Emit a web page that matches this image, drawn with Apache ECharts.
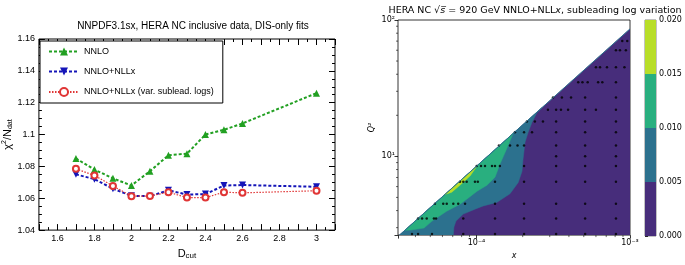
<!DOCTYPE html>
<html>
<head>
<meta charset="utf-8">
<script src="https://cdn.jsdelivr.net/npm/echarts@6/dist/echarts.min.js"></script>
<style>
html, body { margin: 0; padding: 0; background: #fff; }
#main { width: 685px; height: 265px; }
</style>
</head>
<body>
<div id="main"></div>
<script>
// left panel: chi2/Ndat against Dcut
const dcut = [1.7, 1.8, 1.9, 2.0, 2.1, 2.2, 2.3, 2.4, 2.5, 2.6, 3.0];
const chiNNLO = [1.085, 1.078, 1.0725, 1.068, 1.077, 1.087, 1.088, 1.100, 1.103, 1.107, 1.126];
const chiNLLx = [1.075, 1.072, 1.066, 1.0615, 1.0613, 1.065, 1.0623, 1.0626, 1.068, 1.0683, 1.0672];
const chiNLLxVar = [1.0785, 1.0743, 1.0677, 1.0613, 1.0614, 1.0638, 1.0604, 1.0604, 1.0638, 1.0634, 1.0647];

// right panel: axis ranges (x, Q2) and contour levels
const xRange = [3.08e-5, 1e-3];
const q2Range = [2.645, 100];
const levels = [0, 0.005, 0.010, 0.015, 0.020];
const levelColors = ['#472d7b', '#2c718e', '#29af7f', '#b8de29'];

// kinematic limit (upper left edge of the filled region)
const kinEdge = [[3.15e-5, 2.645], [1e-3, 86]];

// contour regions, outlines as [x, Q2]
const region0 = [[3.15e-5, 2.645], [1e-3, 2.645], [1e-3, 86]];
const region1 = [[3.15e-5, 2.645], [7.06e-5, 2.645], [7.13e-5, 3.03], [7.35e-5, 3.35], [8.2e-5, 3.77],
    [9.77e-5, 4.10], [1.107e-4, 4.33], [1.354e-4, 4.59], [1.653e-4, 5.32], [1.87e-4, 6.43],
    [1.98e-4, 7.78], [2.01e-4, 9.52], [2.07e-4, 12.7], [2.17e-4, 15.0], [2.30e-4, 17.8],
    [2.48e-4, 21.0], [2.66e-4, 22.7]];
const region2 = [[3.42e-5, 2.87], [3.74e-5, 2.88], [4.55e-5, 2.98], [5.13e-5, 3.35], [6.39e-5, 3.96],
    [7.81e-5, 4.46], [9.07e-5, 5.06], [1.008e-4, 5.55], [1.17e-4, 6.14], [1.32e-4, 7.03],
    [1.42e-4, 8.75], [1.57e-4, 11.3], [1.73e-4, 14.7]];
const region3 = [[6.23e-5, 5.26], [6.9e-5, 5.46], [8.0e-5, 6.3], [9.1e-5, 7.2], [1.0e-4, 8.4]];
const regions = [region0, region1, region2, region3];

// data points, one row per Q2 bin
const q2Bins = [2.7, 3.5, 4.5, 6.5, 8.5, 10, 12, 15, 18, 22, 27, 35, 45, 60, 70];
const xByBin = [
    [3.80e-5, 4.16e-5, 5.13e-5, 8.2e-5, 1.32e-4, 2.04e-4, 3.3e-4, 5.1e-4, 8.1e-4],
    [4.16e-5, 4.42e-5, 4.74e-5, 5.28e-5, 5.45e-5, 8.2e-5, 1.32e-4, 2.04e-4, 3.3e-4, 5.1e-4, 8.1e-4],
    [5.36e-5, 6.07e-5, 6.4e-5, 7.06e-5, 7.6e-5, 8.42e-5, 1.32e-4, 2.04e-4, 3.3e-4, 5.1e-4, 8.1e-4],
    [7.81e-5, 8.2e-5, 8.63e-5, 9.77e-5, 1.02e-4, 1.32e-4, 2.04e-4, 3.3e-4, 5.1e-4, 8.1e-4],
    [1.003e-4, 1.07e-4, 1.136e-4, 1.262e-4, 1.32e-4, 1.42e-4, 2.04e-4, 3.3e-4, 5.1e-4, 8.1e-4],
    [3.3e-4, 5.1e-4, 8.1e-4],
    [1.40e-4, 1.653e-4, 1.85e-4, 2.04e-4, 3.3e-4, 5.1e-4, 8.1e-4],
    [1.78e-4, 2.04e-4, 2.30e-4, 3.3e-4, 5.1e-4, 8.1e-4],
    [2.13e-4, 2.40e-4, 2.71e-4, 3.3e-4, 5.1e-4, 8.1e-4],
    [2.92e-4, 3.3e-4, 3.55e-4, 3.95e-4, 5.1e-4, 6.0e-4, 8.1e-4],
    [3.15e-4, 3.6e-4, 4.13e-4, 5.1e-4, 8.1e-4],
    [4.6e-4, 4.9e-4, 5.3e-4, 6.2e-4, 6.6e-4, 8.1e-4],
    [6.0e-4, 6.38e-4, 7.08e-4, 8.1e-4, 9.2e-4],
    [8.1e-4, 8.6e-4, 9.4e-4],
    [8.9e-4, 9.6e-4]
];

// minor tick positions of the log axes
const xMinor = [4e-5, 5e-5, 6e-5, 7e-5, 8e-5, 9e-5, 2e-4, 3e-4, 4e-4, 5e-4, 6e-4, 7e-4, 8e-4, 9e-4];
const q2Minor = [3, 4, 5, 6, 7, 8, 9, 20, 30, 40, 50, 60, 70, 80, 90];

let myChart = echarts.init(document.getElementById('main'));

const sup = { '-': '\u207B', '0': '\u2070', '1': '\u00B9', '2': '\u00B2', '3': '\u00B3', '4': '\u2074', '5': '\u2075' };
function powLabel(v) {
    const l = Math.log10(v);
    if (Math.abs(l - Math.round(l)) > 1e-6) return '';
    return '10' + String(Math.round(l)).split('').map(c => sup[c]).join('');
}

const dots = [];
q2Bins.forEach((q, i) => xByBin[i].forEach(x => dots.push([x, q])));

const minorTicks = xMinor.map(v => [v, q2Range[0], 0]).concat(q2Minor.map(v => [xRange[0], v, 1]));

const green = '#22a022', blue = '#1515b8', red = '#e03535';
const boxAxis = {
    axisLine: { show: false },
    axisTick: { show: true, inside: true, length: 6, lineStyle: { color: '#000', width: 1 } },
    minorTick: { show: true, length: 3, lineStyle: { color: '#000', width: 1 } },
    splitLine: { show: false }
};

option = {
    animation: false,
    textStyle: { fontFamily: 'Liberation Sans', color: '#000' },
    title: [
        {
            text: 'NNPDF3.1sx, HERA NC inclusive data, DIS-only fits',
            left: 188, top: 16, textAlign: 'center',
            textStyle: { fontFamily: 'Liberation Sans', fontSize: 10, fontWeight: 'normal', color: '#000' }
        },
        {
            text: 'HERA NC \u221A{i|s\u0305} = 920 GeV NNLO+NLL{i|x}, subleading log variation',
            left: 530, top: 1, textAlign: 'center',
            textStyle: {
                fontFamily: 'DejaVu Sans', fontSize: 9.5, fontWeight: 'normal', color: '#000',
                rich: { i: { fontFamily: 'DejaVu Sans', fontSize: 9.5, fontStyle: 'italic', color: '#000' } }
            }
        }
    ],
    legend: {
        data: ['NNLO', 'NNLO+NLLx', 'NNLO+NLLx (var. sublead. logs)'],
        orient: 'vertical',
        left: 40, top: 41,
        itemWidth: 30, itemHeight: 10, itemGap: 11,
        padding: [6, 9, 6, 8],
        borderColor: '#000', borderWidth: 1, borderRadius: 0,
        backgroundColor: '#fff',
        textStyle: { fontFamily: 'Liberation Sans', fontSize: 9, color: '#000' }
    },
    grid: [
        { left: 38, right: 350, top: 39, bottom: 24, show: true, borderColor: '#000', borderWidth: 1, backgroundColor: 'transparent' },
        { left: 398, right: 55, top: 20, bottom: 29, show: true, borderColor: '#000', borderWidth: 0.8, backgroundColor: 'transparent' },
        { left: 645, right: 29, top: 20, bottom: 29, show: true, borderColor: '#333', borderWidth: 0.6, backgroundColor: 'transparent' }
    ],
    xAxis: [
        Object.assign({}, boxAxis, {
            gridIndex: 0, type: 'value', min: 1.5, max: 3.1, interval: 0.1, position: 'bottom',
            minorTick: { show: true, splitNumber: 2, length: 3, lineStyle: { color: '#000' } },
            axisLabel: {
                fontSize: 9, color: '#000', margin: 4,
                formatter: v => { const k = Math.round(v * 10); return (k % 2 === 0 && k > 15 && k < 31) ? String(+v.toFixed(1)) : ''; }
            },
            name: '{a|D}{b|cut}', nameLocation: 'middle', nameGap: 12,
            nameTextStyle: {
                rich: {
                    a: { fontFamily: 'Liberation Sans', fontSize: 11, color: '#000' },
                    b: { fontFamily: 'Liberation Sans', fontSize: 8, color: '#000', padding: [5, 0, 0, 0] }
                }
            }
        }),
        Object.assign({}, boxAxis, {
            gridIndex: 0, type: 'value', min: 1.5, max: 3.1, interval: 0.1, position: 'top',
            minorTick: { show: true, splitNumber: 2, length: 3, lineStyle: { color: '#000' } },
            axisLabel: { show: false }
        }),
        {
            gridIndex: 1, type: 'log', logBase: 10, min: xRange[0], max: xRange[1],
            axisLine: { show: false },
            axisTick: { show: true, length: 3.5, lineStyle: { color: '#000', width: 0.8 } },
            splitLine: { show: false },
            axisLabel: { fontFamily: 'DejaVu Sans', fontSize: 8, color: '#000', margin: 4, formatter: powLabel },
            name: 'x', nameLocation: 'middle', nameGap: 12,
            nameTextStyle: { fontFamily: 'DejaVu Sans', fontSize: 8, fontStyle: 'italic', color: '#000' }
        },
        { gridIndex: 2, type: 'value', min: 0, max: 1, show: false }
    ],
    yAxis: [
        Object.assign({}, boxAxis, {
            gridIndex: 0, type: 'value', min: 1.04, max: 1.16, interval: 0.02, position: 'left',
            minorTick: { show: true, splitNumber: 4, length: 3, lineStyle: { color: '#000' } },
            axisLabel: { fontSize: 9, color: '#000', margin: 4, formatter: v => String(+v.toFixed(2)) },
            name: '\u03C7{sup|2}/N{sub|dat}', nameLocation: 'middle', nameGap: 21, nameRotate: 90,
            nameTextStyle: {
                fontFamily: 'Liberation Sans', fontSize: 11, color: '#000',
                rich: {
                    sup: { fontFamily: 'Liberation Sans', fontSize: 7, color: '#000', padding: [0, 0, 6, 0] },
                    sub: { fontFamily: 'Liberation Sans', fontSize: 7, color: '#000', padding: [5, 0, 0, 0] }
                }
            }
        }),
        Object.assign({}, boxAxis, {
            gridIndex: 0, type: 'value', min: 1.04, max: 1.16, interval: 0.02, position: 'right',
            minorTick: { show: true, splitNumber: 4, length: 3, lineStyle: { color: '#000' } },
            axisLabel: { show: false }
        }),
        {
            gridIndex: 1, type: 'log', logBase: 10, min: q2Range[0], max: q2Range[1],
            axisLine: { show: false },
            axisTick: { show: true, length: 3.5, lineStyle: { color: '#000', width: 0.8 } },
            splitLine: { show: false },
            axisLabel: { fontFamily: 'DejaVu Sans', fontSize: 8, color: '#000', margin: 3, formatter: powLabel },
            name: 'Q\u00B2', nameLocation: 'middle', nameGap: 22, nameRotate: 90,
            nameTextStyle: { fontFamily: 'DejaVu Sans', fontSize: 8, fontStyle: 'italic', color: '#000' }
        },
        {
            gridIndex: 2, type: 'value', min: levels[0], max: levels[levels.length - 1], interval: 0.005, position: 'right',
            axisLine: { show: false },
            axisTick: { show: true, length: 3, lineStyle: { color: '#000', width: 0.8 } },
            splitLine: { show: false },
            axisLabel: { fontFamily: 'DejaVu Sans', fontSize: 8, color: '#000', margin: 3, formatter: v => v.toFixed(3) }
        }
    ],
    series: [
        {
            name: 'NNLO', type: 'line', xAxisIndex: 0, yAxisIndex: 0,
            data: dcut.map((d, i) => [d, chiNNLO[i]]),
            symbol: 'triangle', symbolSize: 7,
            itemStyle: { color: green },
            lineStyle: { color: green, width: 2, type: [3, 2] }
        },
        {
            name: 'NNLO+NLLx', type: 'line', xAxisIndex: 0, yAxisIndex: 0,
            data: dcut.map((d, i) => [d, chiNLLx[i]]),
            symbol: 'triangle', symbolRotate: 180, symbolSize: 7,
            itemStyle: { color: blue },
            lineStyle: { color: blue, width: 2, type: [3, 2] }
        },
        {
            name: 'NNLO+NLLx (var. sublead. logs)', type: 'line', xAxisIndex: 0, yAxisIndex: 0,
            data: dcut.map((d, i) => [d, chiNLLxVar[i]]),
            symbol: 'emptyCircle', symbolSize: 6,
            itemStyle: { color: red, borderColor: red, borderWidth: 0.9 },
            lineStyle: { color: red, width: 1.2, type: [1.5, 1.5] }
        },
        {
            type: 'custom', xAxisIndex: 2, yAxisIndex: 2, clip: true, silent: true,
            data: regions.map(r => r[0]),
            encode: { x: 0, y: 1 },
            renderItem: (params, api) => {
                const pts = regions[params.dataIndex].map(p => api.coord(p));
                const c = levelColors[params.dataIndex];
                return { type: 'polygon', shape: { points: pts }, style: { fill: c, stroke: c, lineWidth: 0.5 } };
            }
        },
        {
            type: 'line', xAxisIndex: 2, yAxisIndex: 2, silent: true,
            data: kinEdge, symbol: 'none',
            lineStyle: { color: levelColors[1], width: 1 }
        },
        {
            type: 'scatter', xAxisIndex: 2, yAxisIndex: 2, silent: true,
            data: dots, symbol: 'circle', symbolSize: 2.5,
            itemStyle: { color: '#000' }
        },
        {
            type: 'custom', xAxisIndex: 2, yAxisIndex: 2, clip: false, silent: true,
            data: minorTicks,
            encode: { x: 0, y: 1 },
            renderItem: (params, api) => {
                const p = api.coord([api.value(0), api.value(1)]);
                const horiz = api.value(2) === 1;
                return {
                    type: 'line',
                    shape: horiz ? { x1: p[0], y1: p[1], x2: p[0] - 2, y2: p[1] } : { x1: p[0], y1: p[1], x2: p[0], y2: p[1] + 2 },
                    style: { stroke: '#000', lineWidth: 0.6 }
                };
            }
        },
        {
            type: 'custom', xAxisIndex: 3, yAxisIndex: 3, silent: true,
            data: levelColors.map((c, i) => [0, levels[i], levels[i + 1]]),
            encode: { x: 0, y: 1 },
            renderItem: (params, api) => {
                const p1 = api.coord([0, api.value(2)]);
                const p2 = api.coord([1, api.value(1)]);
                return {
                    type: 'rect',
                    shape: { x: p1[0], y: p1[1], width: p2[0] - p1[0], height: p2[1] - p1[1] },
                    style: { fill: levelColors[params.dataIndex] }
                };
            }
        }
    ]
};

myChart.setOption(option);
</script>
</body>
</html>
